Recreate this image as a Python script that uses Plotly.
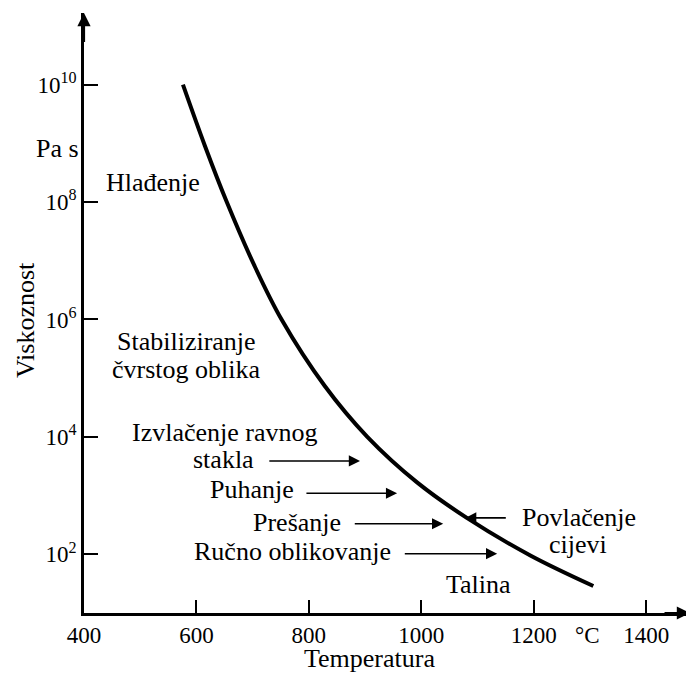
import plotly.graph_objects as go

# Curve: temperature (°C) vs viscosity (log10 Pa s)
temperature = [576, 615, 654, 703, 752, 828, 904, 993, 1081, 1194, 1306]
viscosity_exp = [10.0, 8.96, 8.00, 6.92, 5.99, 4.87, 4.00, 3.22, 2.62, 1.98, 1.46]
viscosity = [10 ** v for v in viscosity_exp]

x_ticks = [400, 600, 800, 1000, 1200, 1400]
x_tick_labels = ["400", "600", "800", "1000", "1200", "1400"]
y_ticks = [1e2, 1e4, 1e6, 1e8, 1e10]
y_tick_labels = ["10<sup>2</sup>", "10<sup>4</sup>", "10<sup>6</sup>", "10<sup>8</sup>", "10<sup>10</sup>"]

# Text labels: (text, temperature, log10 viscosity)
labels = [
    ("Hlađenje", 523, 8.34),
    ("Stabiliziranje", 583, 5.62),
    ("čvrstog oblika", 581, 5.15),
    ("Izvlačenje ravnog", 651, 4.08),
    ("stakla", 649, 3.61),
    ("Puhanje", 699, 3.10),
    ("Prešanje", 779, 2.55),
    ("Ručno oblikovanje", 770, 2.04),
    ("Povlačenje", 1281, 2.62),
    ("cijevi", 1279, 2.17),
    ("Talina", 1101, 1.48),
]

# Process arrows: (tail T, head T, log10 viscosity)
arrows = [
    (727, 891, 3.59),
    (793, 957, 3.04),
    (879, 1039, 2.52),
    (968, 1135, 2.01),
    (1153, 1078, 2.62),
]

FONT = "Liberation Serif"

fig = go.Figure()
fig.add_trace(go.Scatter(
    x=temperature, y=viscosity, mode="lines",
    line=dict(color="black", width=4, shape="spline", smoothing=1.0),
    showlegend=False, hoverinfo="skip",
))

annotations = []
for text, t, v in labels:
    annotations.append(dict(
        text=text, x=t, y=v, xref="x", yref="y", showarrow=False,
        font=dict(family=FONT, size=26, color="black"),
        xanchor="center", yanchor="middle",
    ))

for t0, t1, v in arrows:
    annotations.append(dict(
        text="", x=t1, y=v, ax=t0, ay=v, xref="x", yref="y",
        axref="x", ayref="y", showarrow=True,
        arrowhead=2, arrowsize=1.4, arrowwidth=1.6, arrowcolor="black",
    ))

# axis arrowheads
annotations.append(dict(text="", x=1478, y=1, ax=1430, ay=1, xref="x", yref="y",
                        axref="x", ayref="y", showarrow=True, arrowhead=2,
                        arrowsize=1.2, arrowwidth=2.2, arrowcolor="black"))
annotations.append(dict(text="", x=400, y=11.22, ax=400, ay=10.7, xref="x", yref="y",
                        axref="x", ayref="y", showarrow=True, arrowhead=2,
                        arrowsize=1.2, arrowwidth=2.2, arrowcolor="black"))

# unit and axis titles
annotations.append(dict(text="Pa s", x=-0.043, y=0.775, xref="paper", yref="paper",
                        showarrow=False, xanchor="center", yanchor="middle",
                        font=dict(family=FONT, size=26, color="black")))
annotations.append(dict(text="°C", x=1295, y=-0.037, xref="x", yref="paper",
                        showarrow=False, xanchor="center", yanchor="middle",
                        font=dict(family=FONT, size=23, color="black")))
annotations.append(dict(text="Temperatura", x=907, y=-0.076, xref="x", yref="paper",
                        showarrow=False, xanchor="center", yanchor="middle",
                        font=dict(family=FONT, size=26, color="black")))
annotations.append(dict(text="Viskoznost", x=-0.0975, y=0.488, xref="paper", yref="paper",
                        showarrow=False, textangle=-90, xanchor="center", yanchor="middle",
                        font=dict(family=FONT, size=26, color="black")))

# the page body has an 8px default margin, so the figure is shrunk to fit
fig.update_layout(
    width=686, height=666,
    margin=dict(l=76, r=4, t=5, b=61),
    plot_bgcolor="white", paper_bgcolor="white",
    showlegend=False,
    annotations=annotations,
    xaxis=dict(
        range=[400, 1478], tickvals=x_ticks, ticktext=x_tick_labels,
        ticks="inside", ticklen=13, tickwidth=1.6, tickcolor="black",
        showline=True, linewidth=2.5, linecolor="black",
        showgrid=False, zeroline=False,
        tickfont=dict(family=FONT, size=23, color="black"),
    ),
    yaxis=dict(
        type="log", range=[1, 11.22], tickvals=y_ticks, ticktext=y_tick_labels,
        ticks="inside", ticklen=14, tickwidth=1.6, tickcolor="black",
        showline=True, linewidth=2.5, linecolor="black",
        showgrid=False, zeroline=False,
        tickfont=dict(family=FONT, size=23, color="black"),
    ),
)

fig.write_html("out.html")
